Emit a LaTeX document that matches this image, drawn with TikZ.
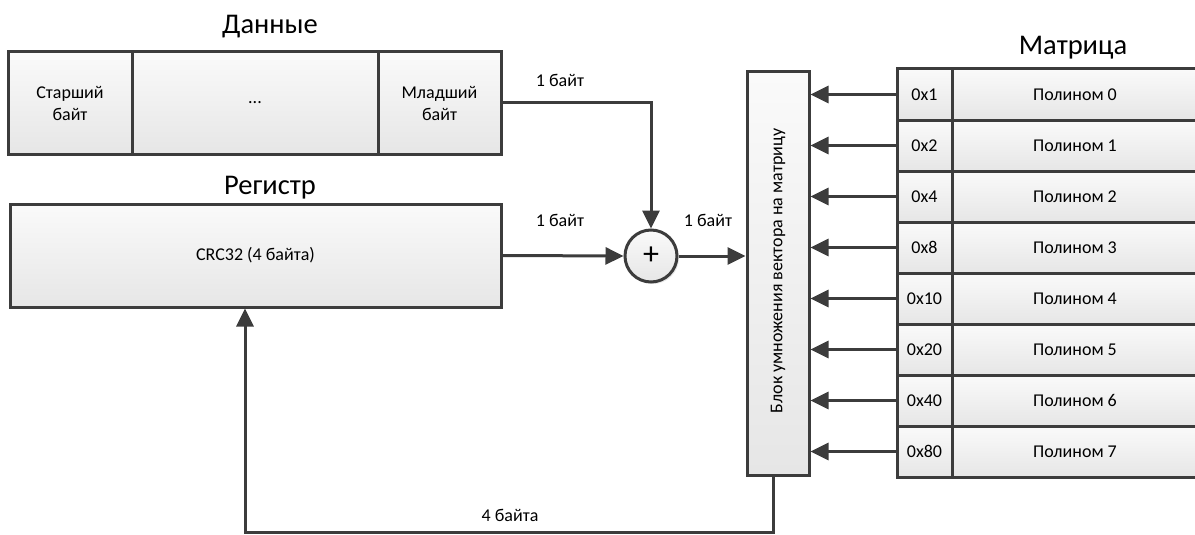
\documentclass[tikz,border=0pt]{standalone}
\usepackage{fontspec}
\setmainfont{Carlito}
\usetikzlibrary{arrows.meta,shadows}
\definecolor{linegray}{HTML}{3C3C3C}
\definecolor{boxtop}{HTML}{FAFAFA}
\definecolor{boxbot}{HTML}{E6E6E6}
\begin{document}
\begin{tikzpicture}[x=1pt, y=-1pt, >={Triangle[length=18pt,width=17pt]},
  cell/.style={draw=linegray, line width=3pt, top color=boxtop, bottom color=boxbot,
    align=center, inner sep=0pt, font=\fontsize{18}{22}\selectfont,
    drop shadow={shadow xshift=2pt, shadow yshift=-2pt, fill=gray!35}},
  title/.style={font=\fontsize{28.5}{32}\selectfont},
  tag/.style={font=\fontsize{18}{22}\selectfont},
  link/.style={draw=linegray, line width=3pt, ->}]
\useasboundingbox (0,0) rectangle (1195,535);
% data
\node[title] (datatitle) at (270,27) {Данные};
\node[cell, minimum width=124pt, minimum height=102pt] (hi) at (70,103) {Старший\\байт};
\node[cell, minimum width=246pt, minimum height=102pt] (mid) at (255,103) {...};
\node[cell, minimum width=123pt, minimum height=102pt] (lo) at (439.5,103) {Младший\\байт};
% register
\node[title] (regtitle) at (270,188) {Регистр};
\node[cell, minimum width=491pt, minimum height=103pt] (reg) at (255.5,255.5) {CRC32 (4 байта)};
% xor
\node[cell, circle, minimum size=52pt, font=\fontsize{32}{34}\selectfont] (xor) at (651,256) {+};
% multiplier
\node[cell, minimum width=62pt, minimum height=403pt] (mul) at (778,273.5) {};
\node[tag, rotate=90] (multxt) at (778,271) {Блок умножения вектора на матрицу};
% matrix
\node[title] (mattitle) at (1073,48) {Матрица};
\foreach \k/\v in {0/0x1, 1/0x2, 2/0x4, 3/0x8, 4/0x10, 5/0x20, 6/0x40, 7/0x80} {
  \node[cell, minimum width=55pt, minimum height=51pt] (key\k) at (924.5,94.5+51*\k) {\v};
  \node[cell, minimum width=246pt, minimum height=51pt] (poly\k) at (1075,94.5+51*\k) {Полином \k};
  \draw[link] (key\k.west) -- (key\k.west -| mul.east);
}
% connectors
\draw[link] (lo.east) -| (xor.north);
\draw[link] (reg.east) -- (xor.west);
\draw[link] (xor.east) -- (xor.east -| mul.west);
\coordinate (fb) at (245,532);
\draw[link] ([xshift=-5pt]mul.south) |- (fb) -- (fb |- reg.south);
% labels
\node[tag] (lbllo) at (560,80) {1 байт};
\node[tag] (lblreg) at (560,220) {1 байт};
\node[tag] (lblxor) at (708,220) {1 байт};
\node[tag] (lblfb) at (510,515) {4 байта};
\end{tikzpicture}
\end{document}
